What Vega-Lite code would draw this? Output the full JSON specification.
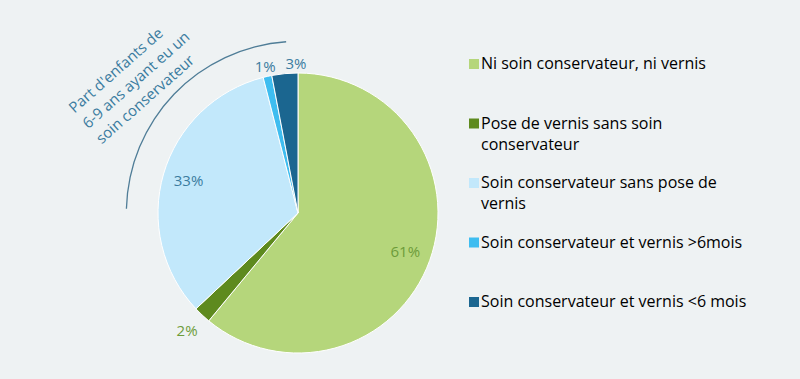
{
  "$schema": "https://vega.github.io/schema/vega-lite/v6.json",
  "width": 596,
  "height": 332,
  "autosize": "none",
  "padding": {"left": 0, "top": 47, "right": 204, "bottom": 0},
  "background": "#eef2f3",
  "config": {"view": {"stroke": null}, "font": "Open Sans", "style": {"guide-label": {"lineHeight": 21}}},
  "datasets": {
    "parts": [
      {"cat": "Ni soin conservateur, ni vernis", "pct": 61, "lbl": "61%", "idx": 1},
      {"cat": "Pose de vernis sans soin conservateur", "pct": 2, "lbl": "2%", "idx": 2},
      {"cat": "Soin conservateur sans pose de vernis", "pct": 33, "lbl": "33%", "idx": 3},
      {"cat": "Soin conservateur et vernis >6mois", "pct": 1, "lbl": "1%", "idx": 4},
      {"cat": "Soin conservateur et vernis <6 mois", "pct": 3, "lbl": "3%", "idx": 5}
    ],
    "brace": [{"from": 75.4, "to": 98.9}],
    "note": [{"pos": 81.78, "text": ["Part d'enfants de", "6-9 ans ayant eu un", "soin conservateur"]}]
  },
  "layer": [
    {
      "data": {"name": "parts"},
      "mark": {"type": "arc", "outerRadius": 140, "stroke": "white", "strokeWidth": 1},
      "encoding": {
        "theta": {"field": "pct", "type": "quantitative", "stack": true, "scale": {"domain": [0, 100]}},
        "order": {"field": "idx", "type": "quantitative"},
        "color": {
          "field": "cat",
          "type": "nominal",
          "scale": {
            "domain": ["Ni soin conservateur, ni vernis", "Pose de vernis sans soin conservateur", "Soin conservateur sans pose de vernis", "Soin conservateur et vernis >6mois", "Soin conservateur et vernis <6 mois"],
            "range": ["#b5d67b", "#5e8a1e", "#c2e8fb", "#3ebdf0", "#1b6690"]
          },
          "legend": {
            "orient": "none",
            "legendX": 466,
            "legendY": 9,
            "title": null,
            "padding": 0,
            "symbolType": "square",
            "symbolSize": 100,
            "symbolStrokeWidth": 0,
            "labelFont": "Open Sans",
            "labelFontSize": 16,
            "labelOffset": -1,
            "labelLimit": 330,
            "labelBaseline": "middle",
            "gridAlign": "all",
            "rowPadding": 22.5,
            "labelExpr": "datum.label == 'Pose de vernis sans soin conservateur' ? ['Pose de vernis sans soin', 'conservateur'] : datum.label == 'Soin conservateur sans pose de vernis' ? ['Soin conservateur sans pose de', 'vernis'] : [datum.label, '']",
            "encode": {
              "labels": {
                "update": {
                  "fill": {"signal": "indexof(['Ni soin conservateur, ni vernis', 'Pose de vernis sans soin conservateur'], datum.value) >= 0 ? '#6d9c3a' : '#3b7ca0'"}
                }
              }
            }
          }
        }
      }
    },
    {
      "data": {"name": "parts"},
      "mark": {
        "type": "text",
        "fontSize": 15,
        "radius": {"expr": "datum.pct > 5 ? 114 : datum.idx == 2 ? 162 : 150"},
        "dx": {"expr": "datum.idx == 5 ? 12 : 0"}
      },
      "encoding": {
        "theta": {"field": "pct", "type": "quantitative", "stack": true, "scale": {"domain": [0, 100]}},
        "order": {"field": "idx", "type": "quantitative"},
        "text": {"field": "lbl", "type": "nominal"},
        "color": {"condition": {"test": "datum.idx <= 2", "value": "#6d9c3a"}, "value": "#3b7ca0"}
      }
    },
    {
      "data": {"name": "brace"},
      "mark": {"type": "arc", "innerRadius": 171, "outerRadius": 172.3, "color": "#4f7d97"},
      "encoding": {
        "theta": {"field": "from", "type": "quantitative", "stack": null, "scale": {"domain": [0, 100]}},
        "theta2": {"field": "to"}
      }
    },
    {
      "data": {"name": "note"},
      "mark": {"type": "text", "angle": 318.5, "radius": 249, "align": "left", "baseline": "middle", "fontSize": 15, "lineHeight": 20.5, "color": "#3b7ca0"},
      "encoding": {
        "theta": {"field": "pos", "type": "quantitative", "stack": null, "scale": {"domain": [0, 100]}},
        "text": {"field": "text", "type": "nominal"}
      }
    }
  ]
}
